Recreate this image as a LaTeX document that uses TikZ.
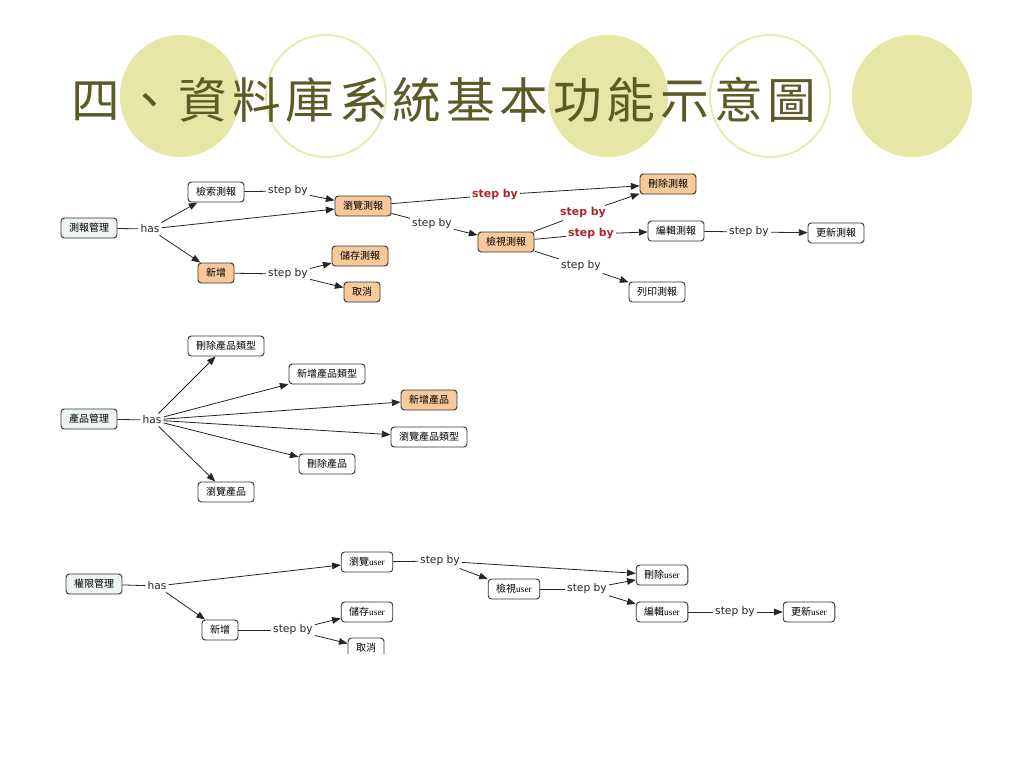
\documentclass[tikz,border=0pt]{standalone}
\usepackage{fontspec}
\usetikzlibrary{arrows.meta}
\newfontfamily\cjk{Noto Sans CJK TC}
\newfontfamily\labfont{DejaVu Sans}
\newfontfamily\serfont{Liberation Serif}
\definecolor{circfill}{HTML}{E6E6A6}
\definecolor{circline}{HTML}{E6EBB8}
\definecolor{titlecol}{HTML}{5B5B28}
\definecolor{rootfill}{HTML}{EEF3F3}
\definecolor{hotfill}{HTML}{F8C99B}
\definecolor{labred}{HTML}{B0242C}
\newcommand\userw{{\serfont\fontsize{7}{8}\selectfont user}}
\tikzset{
 box/.style={draw=black!80, rounded corners=2.5pt, line width=0.7pt, fill=white,
   minimum height=15pt, inner xsep=6pt, inner ysep=0pt,
   font=\cjk\fontsize{7.5}{9}\selectfont},
 rootbox/.style={box, fill=rootfill},
 hotbox/.style={box, fill=hotfill},
 lab/.style={font=\labfont\fontsize{8}{9}\selectfont, text=black!85, inner sep=1.5pt},
 redlab/.style={lab, font=\labfont\bfseries\fontsize{8.2}{9}\selectfont, text=labred},
 ln/.style={draw=black!85, line width=0.6pt},
 arr/.style={ln, -{Triangle[length=6.5pt,width=5pt]}},
 fullcirc/.style={fill=circfill},
 opencirc/.style={draw=circline, line width=1.5pt, fill=white},
}
\begin{document}
\begin{tikzpicture}[x=0.75pt,y=-0.75pt]
\useasboundingbox (0,0) rectangle (1024,768);
\fill[white] (0,0) rectangle (1024,768);
% title circles
\path[fullcirc] (180,96) ellipse [x radius=45pt, y radius=45.75pt];
\path[opencirc] (326,96) ellipse [x radius=45pt, y radius=45.75pt];
\path[fullcirc] (608,96) ellipse [x radius=45pt, y radius=45.75pt];
\path[opencirc] (770,96) ellipse [x radius=45pt, y radius=45.75pt];
\path[fullcirc] (912,96) ellipse [x radius=45pt, y radius=45.75pt];
\node[text=titlecol, inner sep=0pt, font=\cjk\fontsize{36.5}{40}\selectfont\addfontfeature{LetterSpace=10}] (title) at (444,100) {四、資料庫系統基本功能示意圖};

\begin{scope}
\clip (0,0) rectangle (1024,653);
% ---------- group 1 ----------
\node[rootbox] (A1) at (89,228) {測報管理};
\node[lab] (h1) at (150,229) {has};
\node[box] (B1) at (216,192) {檢索測報};
\node[lab] (s1) at (288,191) {step by};
\node[hotbox] (C1) at (363,206) {瀏覽測報};
\node[hotbox] (D1) at (216,273) {新增};
\node[lab] (s2) at (288,274) {step by};
\node[hotbox] (E1) at (360,256) {儲存測報};
\node[hotbox] (F1) at (362,292) {取消};
\node[redlab] (s3) at (495,195) {step by};
\node[hotbox] (G1) at (668,184) {刪除測報};
\node[lab] (s4) at (432,224) {step by};
\node[hotbox] (H1) at (506,242) {檢視測報};
\node[redlab] (s5) at (583,213) {step by};
\node[redlab] (s6) at (591,234) {step by};
\node[box] (I1) at (676,231) {編輯測報};
\node[lab] (s7) at (749,232) {step by};
\node[box] (J1) at (836,233) {更新測報};
\node[lab] (s8) at (581,266) {step by};
\node[box] (K1) at (657,292) {列印測報};

\draw[ln] (A1) -- (h1);
\draw[arr] (h1) -- (B1);
\draw[arr] (h1) -- (C1);
\draw[arr] (h1) -- (D1);
\draw[ln] (B1) -- (s1);
\draw[arr] (s1) -- (C1);
\draw[ln] (D1) -- (s2);
\draw[arr] (s2) -- (E1);
\draw[arr] (s2) -- (F1);
\draw[ln] (C1) -- (s3);
\draw[arr] (s3) -- (G1);
\draw[ln] (C1) -- (s4);
\draw[arr] (s4) -- (H1);
\draw[ln] (H1) -- (s5);
\draw[arr] (s5) -- (G1);
\draw[ln] (H1) -- (s6);
\draw[arr] (s6) -- (I1);
\draw[ln] (I1) -- (s7);
\draw[arr] (s7) -- (J1);
\draw[ln] (H1) -- (s8);
\draw[arr] (s8) -- (K1);

% ---------- group 2 ----------
\node[rootbox] (A2) at (89,419) {產品管理};
\node[lab] (h2) at (152,420) {has};
\node[box] (B2) at (226,346) {刪除產品類型};
\node[box] (C2) at (327,374) {新增產品類型};
\node[hotbox] (D2) at (429,400) {新增產品};
\node[box] (E2) at (429,437) {瀏覽產品類型};
\node[box] (F2) at (327,464) {刪除產品};
\node[box] (G2) at (226,492) {瀏覽產品};
\draw[ln] (A2) -- (h2);
\foreach \t in {B2,C2,D2,E2,F2,G2} \draw[arr] (h2) -- (\t);

% ---------- group 3 ----------
\node[rootbox] (A3) at (94,584) {權限管理};
\node[lab] (h3) at (157,586) {has};
\node[box] (B3) at (367,562) {瀏覽\userw};
\node[lab] (s31) at (440,561) {step by};
\node[box] (C3) at (220,630) {新增};
\node[lab] (s32) at (293,630) {step by};
\node[box] (D3) at (367,612) {儲存\userw};
\node[box] (E3) at (366,648) {取消};
\node[box] (F3) at (514,589) {檢視\userw};
\node[lab] (s33) at (587,589) {step by};
\node[box] (G3) at (662,575) {刪除\userw};
\node[box] (H3) at (662,612) {編輯\userw};
\node[lab] (s34) at (735,612) {step by};
\node[box] (I3) at (809,612) {更新\userw};

\draw[ln] (A3) -- (h3);
\draw[arr] (h3) -- (B3);
\draw[arr] (h3) -- (C3);
\draw[ln] (B3) -- (s31);
\draw[arr] (s31) -- (G3);
\draw[arr] (s31) -- (F3);
\draw[ln] (C3) -- (s32);
\draw[arr] (s32) -- (D3);
\draw[arr] (s32) -- (E3);
\draw[ln] (F3) -- (s33);
\draw[arr] (s33) -- (G3);
\draw[arr] (s33) -- (H3);
\draw[ln] (H3) -- (s34);
\draw[arr] (s34) -- (I3);
\end{scope}
\end{tikzpicture}
\end{document}
